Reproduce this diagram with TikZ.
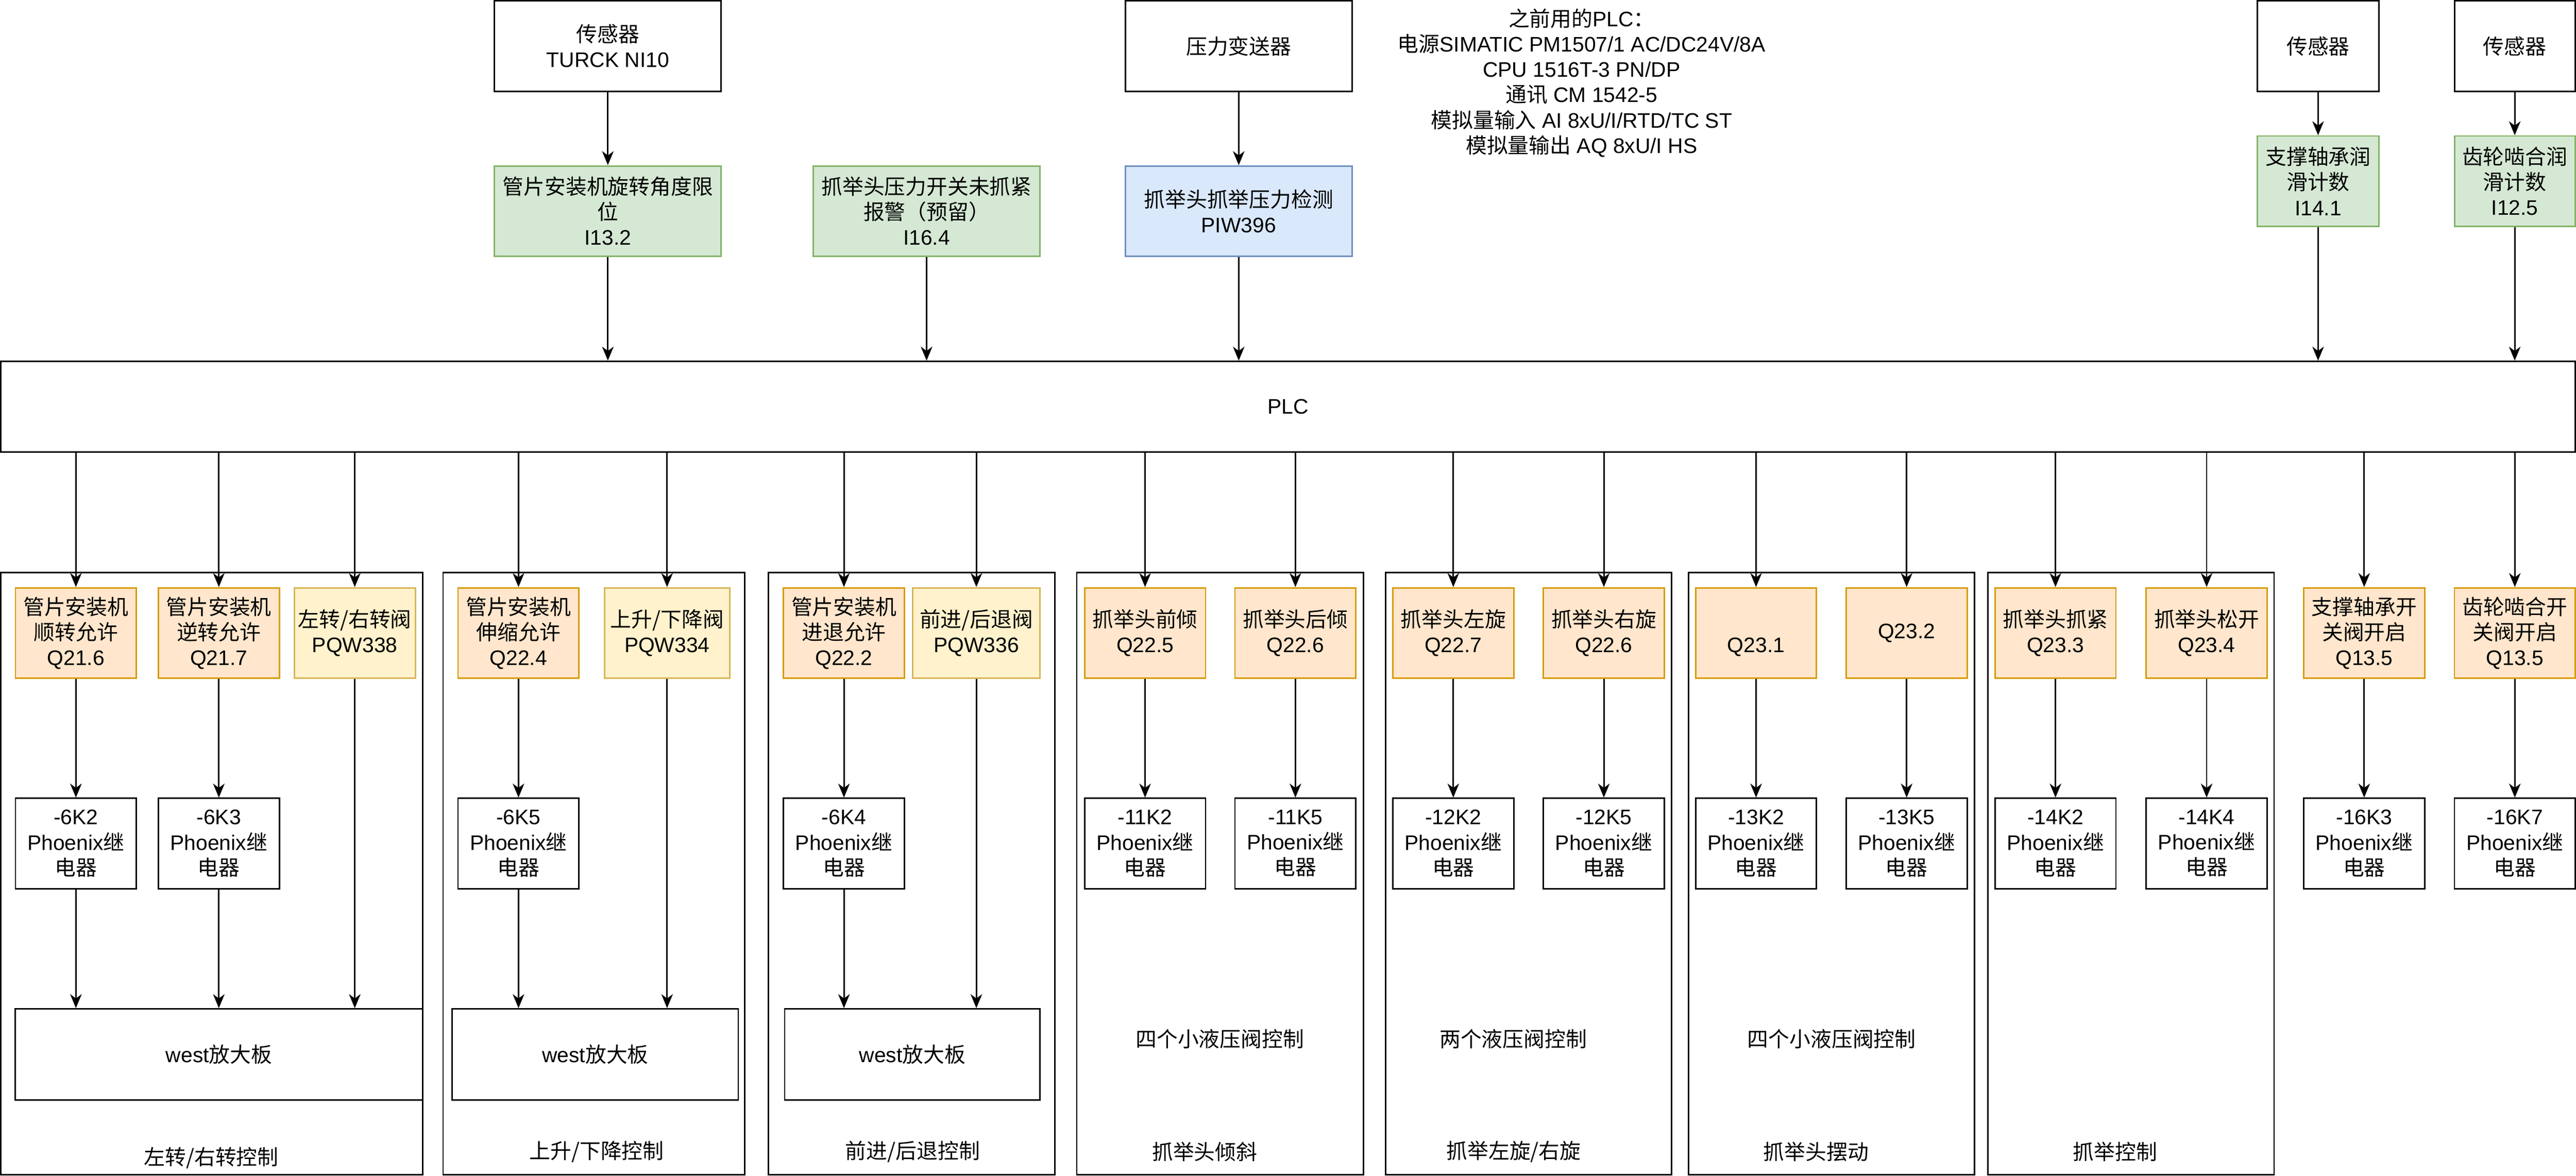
\documentclass[tikz,border=0pt]{standalone}
\usepackage{fontspec}
\setmainfont{Liberation Sans}
\newfontfamily\cjk{Noto Sans CJK SC}
\usetikzlibrary{arrows.meta}
\newcommand\fs{\fontsize{12.8}{15.4}\selectfont}
\definecolor{gfill}{HTML}{D5E8D4}\definecolor{gdraw}{HTML}{82B366}
\definecolor{bfill}{HTML}{DAE8FC}\definecolor{bdraw}{HTML}{6C8EBF}
\definecolor{ofill}{HTML}{FFE6CC}\definecolor{odraw}{HTML}{D79B00}
\definecolor{yfill}{HTML}{FFF2CC}\definecolor{ydraw}{HTML}{D6B656}
\begin{document}
\begin{tikzpicture}[x=1pt,y=-1pt,
  box/.style={draw=black, line width=0.9pt, align=center, inner sep=0pt, font=\fs, minimum height=55pt, fill=white},
  wide/.style={box, minimum width=138pt},
  small/.style={box, minimum width=73.6pt},
  gbox/.style={fill=gfill, draw=gdraw},
  bbox/.style={fill=bfill, draw=bdraw},
  obox/.style={small, fill=ofill, draw=odraw},
  ybox/.style={box, fill=yfill, draw=ydraw},
  grp/.style={draw=black, line width=0.9pt, inner sep=0pt, minimum height=366.7pt},
  txt/.style={inner sep=0pt, font=\fs, align=center},
  arr/.style={line width=0.9pt, -{Stealth[length=8.5pt,width=7pt,inset=2.6pt]}}
]
\useasboundingbox (0,0) rectangle (1568,715.72);

% ---------- top row ----------
\node[wide] (s1) at (370,28.05) {{\cjk 传感器}\\TURCK NI10};
\node[wide,gbox] (g1) at (370,128.5) {{\cjk 管片安装机旋转角度限}\\{\cjk 位}\\I13.2};
\node[wide,gbox] (g2) at (564,128.5) {{\cjk 抓举头压力开关未抓紧}\\{\cjk 报警（预留）}\\I16.4};
\node[wide] (s2) at (754,28.05) {{\cjk 压力变送器}};
\node[wide,bbox] (b1) at (754,128.5) {{\cjk 抓举头抓举压力检测}\\PIW396};
\node[txt] (info) at (962.7,50.5) {{\cjk 之前用的}PLC{\cjk ：}\\{\cjk 电源}SIMATIC PM1507/1 AC/DC24V/8A\\CPU 1516T-3 PN/DP\\{\cjk 通讯} CM 1542-5\\{\cjk 模拟量输入} AI 8xU/I/RTD/TC ST\\{\cjk 模拟量输出} AQ 8xU/I HS};
\node[box, minimum width=74pt] (s3) at (1411,28.05) {{\cjk 传感器}};
\node[box, minimum width=74pt, gbox] (g3) at (1411,110.3) {{\cjk 支撑轴承润}\\{\cjk 滑计数}\\I14.1};
\node[box, minimum width=73.4pt] (s4) at (1530.7,28.05) {{\cjk 传感器}};
\node[box, minimum width=73.4pt, gbox] (g4) at (1530.7,110.3) {{\cjk 齿轮啮合润}\\{\cjk 滑计数}\\I12.5};

\node[box, minimum width=1566.9pt, minimum height=55.3pt] (plc) at (784,247.65) {PLC};

\draw[arr] (s1.south) -- (g1.north);
\draw[arr] (g1.south) -- (g1.south |- plc.north);
\draw[arr] (g2.south) -- (g2.south |- plc.north);
\draw[arr] (s2.south) -- (b1.north);
\draw[arr] (b1.south) -- (b1.south |- plc.north);
\draw[arr] (s3.south) -- (g3.north);
\draw[arr] (g3.south) -- (g3.south |- plc.north);
\draw[arr] (s4.south) -- (g4.north);
\draw[arr] (g4.south) -- (g4.south |- plc.north);

% ---------- group containers ----------
\node[grp, minimum width=256.7pt] (c1) at (128.85,531.85) {};
\node[grp, minimum width=183.5pt] (c2) at (361.45,531.85) {};
\node[grp, minimum width=174.4pt] (c3) at (554.8,531.85) {};
\node[grp, minimum width=174.6pt] (c4) at (742.7,531.85) {};
\node[grp, minimum width=174.1pt] (c5) at (930.45,531.85) {};
\node[grp, minimum width=174.1pt] (c6) at (1114.75,531.85) {};
\node[grp, minimum width=174.2pt] (c7) at (1297.1,531.85) {};

\node[txt] (l1) at (128.6,704.8) {{\cjk 左转/右转控制}};
\node[txt] (l2) at (363.2,701.3) {{\cjk 上升/下降控制}};
\node[txt] (l3) at (555.5,701.3) {{\cjk 前进/后退控制}};
\node[txt] (l4) at (733.3,701.3) {{\cjk 抓举头倾斜}};
\node[txt] (l5) at (921.4,701.3) {{\cjk 抓举左旋/右旋}};
\node[txt] (l6) at (1105.4,701.3) {{\cjk 抓举头摆动}};
\node[txt] (l7) at (1287.4,701.3) {{\cjk 抓举控制}};
\node[txt] (m4) at (742.5,632.5) {{\cjk 四个小液压阀控制}};
\node[txt] (m5) at (921.1,632.5) {{\cjk 两个液压阀控制}};
\node[txt] (m6) at (1114.9,632.5) {{\cjk 四个小液压阀控制}};

% ---------- output boxes ----------
\node[obox] (q1) at (46.2,385.35) {{\cjk 管片安装机}\\{\cjk 顺转允许}\\Q21.6};
\node[obox] (q2) at (133.2,385.35) {{\cjk 管片安装机}\\{\cjk 逆转允许}\\Q21.7};
\node[ybox, minimum width=73.7pt] (y1) at (215.95,385.35) {{\cjk 左转/右转阀}\\PQW338};
\node[obox] (q3) at (315.6,385.35) {{\cjk 管片安装机}\\{\cjk 伸缩允许}\\Q22.4};
\node[ybox, minimum width=76.3pt] (y2) at (406.05,385.35) {{\cjk 上升/下降阀}\\PQW334};
\node[obox] (q4) at (513.7,385.35) {{\cjk 管片安装机}\\{\cjk 进退允许}\\Q22.2};
\node[ybox, minimum width=77.6pt] (y3) at (594.3,385.35) {{\cjk 前进/后退阀}\\PQW336};
\node[obox] (q5) at (697.0,385.35) {{\cjk 抓举头前倾}\\Q22.5};
\node[obox] (q6) at (788.5,385.35) {{\cjk 抓举头后倾}\\Q22.6};
\node[obox] (q7) at (884.6,385.35) {{\cjk 抓举头左旋}\\Q22.7};
\node[obox] (q8) at (976.25,385.35) {{\cjk 抓举头右旋}\\Q22.6};
\node[obox] (q9) at (1068.9,385.35) {\phantom{\cjk 抓}\\Q23.1};
\node[obox] (q10) at (1160.55,385.35) {Q23.2};
\node[obox] (q11) at (1251.15,385.35) {{\cjk 抓举头抓紧}\\Q23.3};
\node[obox] (q12) at (1343.15,385.35) {{\cjk 抓举头松开}\\Q23.4};
\node[obox] (q13) at (1439.05,385.35) {{\cjk 支撑轴承开}\\{\cjk 关阀开启}\\Q13.5};
\node[obox] (q14) at (1530.75,385.35) {{\cjk 齿轮啮合开}\\{\cjk 关阀开启}\\Q13.5};

% ---------- relays ----------
\coordinate (rowR) at (0,513.5);
\foreach \q/\t in {1/-6K2,2/-6K3,3/-6K5,4/-6K4,5/-11K2,6/-11K5,7/-12K2,8/-12K5,9/-13K2,10/-13K5,11/-14K2,12/-14K4,13/-16K3,14/-16K7}{
  \node[small] (r\q) at (q\q |- rowR) {\t\\Phoenix{\cjk 继}\\{\cjk 电器}};
  \draw[arr] (q\q.south) -- (r\q.north);
  \draw[arr] (q\q.north |- plc.south) -- (q\q.north);
}
\foreach \y in {y1,y2,y3}{
  \draw[arr] (\y.north |- plc.south) -- (\y.north);
}

% ---------- west boards ----------
\node[box, minimum width=247.9pt, minimum height=55.4pt] (w1) at (133.3,641.9) {west{\cjk 放大板}};
\node[box, minimum width=174.1pt, minimum height=55.4pt] (w2) at (362.35,641.9) {west{\cjk 放大板}};
\node[box, minimum width=155.5pt, minimum height=55.4pt] (w3) at (555.35,641.9) {west{\cjk 放大板}};

\draw[arr] (r1.south) -- (r1.south |- w1.north);
\draw[arr] (r2.south) -- (r2.south |- w1.north);
\draw[arr] (y1.south) -- (y1.south |- w1.north);
\draw[arr] (r3.south) -- (r3.south |- w2.north);
\draw[arr] (y2.south) -- (y2.south |- w2.north);
\draw[arr] (r4.south) -- (r4.south |- w3.north);
\draw[arr] (y3.south) -- (y3.south |- w3.north);
\end{tikzpicture}
\end{document}
